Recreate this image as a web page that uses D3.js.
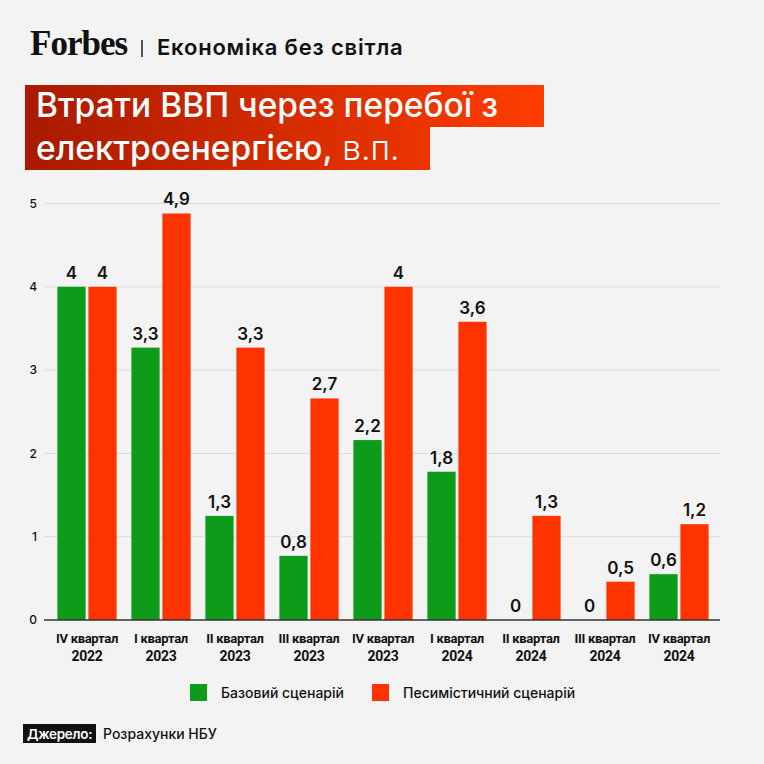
<!DOCTYPE html>
<html>
<head>
<meta charset="utf-8">
<script src="https://cdn.jsdelivr.net/npm/d3@7"></script>
<style>
  html, body { margin: 0; padding: 0; background: #f3f3f3; }
  svg { display: block; font-family: Inter, Roboto, sans-serif; }
</style>
</head>
<body>
<svg width="764" height="764"></svg>
<script>
// quarters, two lines each
var quarters = ['IV квартал', 'I квартал', 'II квартал', 'III квартал', 'IV квартал', 'I квартал', 'II квартал', 'III квартал', 'IV квартал'];
var years = ['2022', '2023', '2023', '2023', '2023', '2024', '2024', '2024', '2024'];

// bar heights, labels as printed
var baseValues = [4, 3.27, 1.25, 0.77, 2.16, 1.78, 0, 0, 0.55];
var pessValues = [4, 4.88, 3.27, 2.66, 4, 3.58, 1.25, 0.46, 1.15];
var baseLabels = ['4', '3,3', '1,3', '0,8', '2,2', '1,8', '0', '0', '0,6'];
var pessLabels = ['4', '4,9', '3,3', '2,7', '4', '3,6', '1,3', '0,5', '1,2'];

var seriesNames = ['Базовий сценарій', 'Песимістичний сценарій'];
var seriesColors = ['#0c9c1a', '#ff3300'];
var yTicks = [0, 1, 2, 3, 4, 5];

var svg = d3.select('svg');

var rows = quarters.map(function (q, i) {
  return {
    key: i,
    q: q,
    year: years[i],
    vals: [
      { s: 0, v: baseValues[i], label: baseLabels[i] },
      { s: 1, v: pessValues[i], label: pessLabels[i] }
    ]
  };
});

// header
svg.append('text')
  .attr('x', 30).attr('y', 55)
  .style('font-family', '"Liberation Serif", "DejaVu Serif", serif')
  .style('font-weight', 700)
  .style('font-size', '35px')
  .style('letter-spacing', '-1px')
  .attr('fill', '#111')
  .text('Forbes');

svg.append('line')
  .attr('x1', 142).attr('x2', 142)
  .attr('y1', 40).attr('y2', 57)
  .attr('stroke', '#222').attr('stroke-width', 1.5);

svg.append('text')
  .attr('x', 157).attr('y', 55)
  .style('font-weight', 600)
  .style('font-size', '22px')
  .style('letter-spacing', '0.8px')
  .attr('fill', '#111')
  .text('Економіка без світла');

// title boxes with gradient
var defs = svg.append('defs');
var grad = defs.append('linearGradient')
  .attr('id', 'titleGrad')
  .attr('gradientUnits', 'userSpaceOnUse')
  .attr('x1', 25).attr('x2', 544).attr('y1', 0).attr('y2', 0);
grad.append('stop').attr('offset', '0%').attr('stop-color', '#a91a00');
grad.append('stop').attr('offset', '100%').attr('stop-color', '#ff3c00');

svg.append('rect')
  .attr('x', 25).attr('y', 85).attr('width', 519).attr('height', 42)
  .attr('fill', 'url(#titleGrad)');
svg.append('rect')
  .attr('x', 25).attr('y', 127).attr('width', 405).attr('height', 43)
  .attr('fill', 'url(#titleGrad)');

svg.append('text')
  .attr('x', 36).attr('y', 117)
  .style('font-weight', 500)
  .style('font-size', '33.5px')
  .attr('fill', '#fff')
  .text('Втрати ВВП через перебої з');

var t2 = svg.append('text')
  .attr('x', 36).attr('y', 160)
  .style('font-size', '33.5px')
  .attr('fill', '#fff');
t2.append('tspan').style('font-weight', 500).text('електроенергією,');
t2.append('tspan').style('font-weight', 300).text(' в.п.');

// scales
var x = d3.scaleBand()
  .domain(d3.range(quarters.length))
  .range([50, 716])
  .paddingInner(0.2)
  .paddingOuter(0.1);

var xs = d3.scaleBand()
  .domain([0, 1])
  .range([0, x.bandwidth()])
  .paddingInner(0.09);

var y = d3.scaleLinear().domain([0, 5]).range([620, 203.5]);

// grid
svg.append('g')
  .selectAll('line')
  .data(yTicks.slice(1))
  .enter()
  .append('line')
  .attr('x1', 44).attr('x2', 720)
  .attr('y1', function (d) { return y(d); })
  .attr('y2', function (d) { return y(d); })
  .attr('stroke', '#dcdcdc').attr('stroke-width', 1);

// y axis labels
var yAxis = svg.append('g')
  .attr('transform', 'translate(37,0)')
  .call(d3.axisLeft(y).tickValues(yTicks).tickFormat(d3.format('d')).tickSize(0).tickPadding(0));
yAxis.select('.domain').remove();
yAxis.selectAll('text')
  .style('font-family', 'Inter, Roboto, sans-serif')
  .style('font-size', '12px')
  .style('font-weight', 500)
  .attr('fill', '#111');

// bars
var groups = svg.append('g')
  .selectAll('g')
  .data(rows)
  .enter()
  .append('g')
  .attr('transform', function (d) { return 'translate(' + x(d.key) + ',0)'; });

groups.selectAll('rect')
  .data(function (d) { return d.vals; })
  .enter()
  .append('rect')
  .attr('x', function (d) { return xs(d.s); })
  .attr('width', xs.bandwidth())
  .attr('y', function (d) { return y(d.v); })
  .attr('height', function (d) { return y(0) - y(d.v); })
  .attr('fill', function (d) { return seriesColors[d.s]; });

groups.selectAll('text.val')
  .data(function (d) { return d.vals; })
  .enter()
  .append('text')
  .attr('class', 'val')
  .attr('x', function (d) { return xs(d.s) + xs.bandwidth() / 2; })
  .attr('y', function (d) { return y(d.v) - 8; })
  .attr('text-anchor', 'middle')
  .style('font-size', '17px')
  .style('font-weight', 600)
  .attr('fill', '#111')
  .text(function (d) { return d.label; });

// baseline
svg.append('line')
  .attr('x1', 44).attr('x2', 720)
  .attr('y1', y(0)).attr('y2', y(0))
  .attr('stroke', '#333').attr('stroke-width', 1.5);

// x labels
var xl = svg.append('g')
  .selectAll('text')
  .data(rows)
  .enter()
  .append('text')
  .attr('text-anchor', 'middle')
  .style('font-family', 'Roboto, sans-serif')
  .style('font-size', '13px')
  .style('font-weight', 700)
  .style('letter-spacing', '-0.3px')
  .attr('fill', '#111');
xl.append('tspan')
  .attr('x', function (d) { return x(d.key) + x.bandwidth() / 2; })
  .attr('y', 643)
  .text(function (d) { return d.q; });
xl.append('tspan')
  .attr('x', function (d) { return x(d.key) + x.bandwidth() / 2; })
  .attr('y', 661)
  .style('font-size', '14px')
  .text(function (d) { return d.year; });

// legend
var legendX = [190, 372];
var legend = svg.append('g')
  .selectAll('g')
  .data(seriesNames)
  .enter()
  .append('g')
  .attr('transform', function (d, i) { return 'translate(' + legendX[i] + ',684)'; });
legend.append('rect')
  .attr('width', 17).attr('height', 17)
  .attr('fill', function (d, i) { return seriesColors[i]; });
legend.append('text')
  .attr('x', 31).attr('y', 14)
  .style('font-size', '14px')
  .style('font-weight', 500)
  .attr('fill', '#111')
  .text(function (d) { return d; });

// source
svg.append('rect')
  .attr('x', 23).attr('y', 724).attr('width', 73).attr('height', 19)
  .attr('fill', '#111');
svg.append('text')
  .attr('x', 27).attr('y', 738.5)
  .style('font-size', '13.5px')
  .style('font-weight', 600)
  .style('letter-spacing', '-0.3px')
  .attr('fill', '#fff')
  .text('Джерело:');
svg.append('text')
  .attr('x', 103).attr('y', 738.5)
  .style('font-size', '14px')
  .style('font-weight', 500)
  .attr('fill', '#111')
  .text('Розрахунки НБУ');
</script>
</body>
</html>
